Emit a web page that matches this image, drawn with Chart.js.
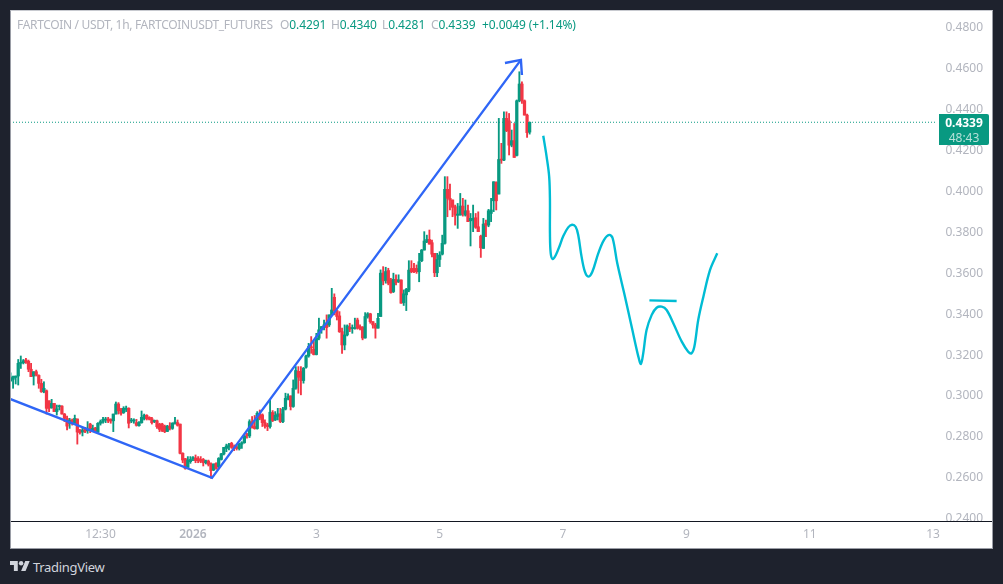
<!DOCTYPE html>
<html><head><meta charset="utf-8">
<script src="https://cdn.jsdelivr.net/npm/chart.js@4"></script>
<style>
html,body{margin:0;padding:0;width:1003px;height:584px;overflow:hidden;background:#1e222d;font-family:"Noto Sans",sans-serif}
#panel{position:absolute;left:10px;top:10px;width:983px;height:539px;background:#fff}
#edge{position:absolute;left:10px;top:10px;width:983px;height:539px;box-sizing:border-box;border:1px solid #9a9da6;border-top-color:#c8cad0;pointer-events:none}
canvas{position:absolute;left:10px;top:10px}
.h{position:absolute;top:17px;font-size:12px;line-height:16px;white-space:nowrap;color:#b2b5be;letter-spacing:-.1px}
.h b{font-weight:400;color:#089981}
#title{letter-spacing:-.33px}
#badge{position:absolute;left:939px;top:114px;width:50px;height:31px;background:#089981;border-radius:0 2px 2px 0;color:#fff;font-size:12px;line-height:15px;text-align:center}
#badge div:first-child{font-weight:700;padding-top:1px}
#badge div:last-child{color:#b5e0d8}
#logo{position:absolute;left:10px;top:560px}
#brand{position:absolute;left:33px;top:558px;color:#d1d4dc;font-size:13px;line-height:18px;letter-spacing:-.3px}
</style></head><body>
<div id="panel"></div>
<canvas id="c" width="983" height="539" style="width:983px;height:539px"></canvas>
<div id="edge"></div>
<div class="h" style="left:17px" id="title">FARTCOIN / USDT, 1h, FARTCOINUSDT_FUTURES</div>
<div class="h" style="left:280px">O<b>0.4291</b></div>
<div class="h" style="left:331px">H<b>0.4340</b></div>
<div class="h" style="left:382px">L<b>0.4281</b></div>
<div class="h" style="left:431px">C<b>0.4339</b></div>
<div class="h" style="left:482px"><b>+0.0049 (+1.14%)</b></div>
<div id="badge"><div>0.4339</div><div>48:43</div></div>
<svg id="logo" width="20" height="12" viewBox="0 4 36 18"><path fill="#d1d4dc" d="M14 22H7V11H0V4h14v18zM28 22h-8l7.5-18h8L28 22z"/><circle fill="#d1d4dc" cx="20" cy="8" r="4"/></svg>
<div id="brand">TradingView</div>
<script>
const firstHour = -71;
const open = [.3075,.3082,.3091,.3098,.3160,.3163,.3176,.3170,.3131,.3098,.3119,.3101,.3062,.3021,.3026,.2977,.2943,.2964,.2924,.2948,.2951,.2912,.2891,.2867,.2883,.2867,.2888,.2834,.2824,.2844,.2831,.2863,.2831,.2844,.2824,.2867,.2876,.2883,.2888,.2886,.2879,.2912,.2961,.2932,.2919,.2935,.2940,.2878,.2878,.2870,.2855,.2870,.2889,.2906,.2896,.2889,.2875,.2879,.2863,.2863,.2853,.2827,.2853,.2842,.2867,.2870,.2863,.2720,.2694,.2651,.2679,.2694,.2697,.2695,.2690,.2690,.2674,.2682,.2668,.2638,.2671,.2655,.2690,.2717,.2744,.2752,.2769,.2752,.2752,.2743,.2765,.2772,.2810,.2805,.2875,.2851,.2841,.2911,.2908,.2870,.2859,.2851,.2919,.2883,.2900,.2913,.2875,.2936,.2989,.3001,.2949,.3038,.3121,.3120,.3076,.3141,.3196,.3239,.3229,.3203,.3283,.3327,.3337,.3356,.3348,.3397,.3483,.3418,.3392,.3315,.3250,.3299,.3337,.3330,.3330,.3372,.3340,.3337,.3284,.3389,.3402,.3364,.3348,.3332,.3389,.3601,.3565,.3614,.3568,.3511,.3571,.3560,.3568,.3457,.3495,.3518,.3624,.3624,.3624,.3608,.3662,.3714,.3755,.3766,.3750,.3698,.3603,.3668,.3694,.3747,.4011,.3967,.3959,.3926,.3884,.3885,.3929,.3885,.3906,.3857,.3861,.3872,.3828,.3782,.3722,.3845,.3836,.3893,.3955,.4045,.3988,.4157,.4154,.4358,.4346,.4227,.4249,.4177,.4444,.4526,.4444,.4374,.4291];
const high = [.3114,.3098,.3098,.3179,.3196,.3179,.3184,.3176,.3160,.3119,.3127,.3104,.3082,.3070,.3030,.2977,.2984,.2964,.2956,.2956,.2953,.2915,.2902,.2891,.2888,.2907,.2888,.2837,.2842,.2847,.2875,.2867,.2858,.2847,.2870,.2883,.2896,.2896,.2896,.2889,.2912,.2971,.2968,.2940,.2948,.2951,.2943,.2891,.2889,.2886,.2875,.2927,.2912,.2909,.2899,.2896,.2883,.2883,.2867,.2867,.2858,.2857,.2870,.2870,.2896,.2883,.2863,.2723,.2695,.2704,.2704,.2704,.2712,.2704,.2704,.2695,.2687,.2687,.2674,.2668,.2674,.2699,.2720,.2749,.2765,.2769,.2774,.2761,.2761,.2769,.2777,.2810,.2818,.2884,.2900,.2905,.2924,.2932,.2913,.2884,.2867,.2981,.2929,.2924,.2940,.2940,.2945,.3014,.3011,.3001,.3079,.3144,.3144,.3144,.3140,.3201,.3258,.3291,.3267,.3307,.3381,.3340,.3372,.3397,.3397,.3527,.3500,.3421,.3413,.3332,.3348,.3348,.3356,.3348,.3381,.3381,.3348,.3340,.3408,.3408,.3405,.3364,.3356,.3405,.3617,.3633,.3630,.3625,.3576,.3601,.3593,.3593,.3568,.3519,.3527,.3662,.3662,.3649,.3641,.3698,.3717,.3804,.3787,.3812,.3763,.3698,.3698,.3706,.3787,.4073,.4073,.4037,.3959,.3934,.3942,.3991,.3967,.3959,.3934,.3893,.3934,.3893,.3901,.3787,.3869,.3861,.3913,.3967,.4048,.4048,.4358,.4236,.4390,.4390,.4382,.4301,.4333,.4448,.4586,.4537,.4448,.4379,.4340];
const low = [.3070,.3038,.3059,.3054,.3135,.3157,.3160,.3119,.3095,.3054,.3098,.3038,.3018,.3016,.2912,.2924,.2940,.2924,.2907,.2932,.2912,.2875,.2834,.2842,.2858,.2867,.2765,.2814,.2805,.2821,.2818,.2821,.2826,.2822,.2821,.2858,.2867,.2870,.2870,.2867,.2826,.2912,.2912,.2907,.2915,.2924,.2844,.2870,.2867,.2853,.2853,.2867,.2883,.2883,.2883,.2863,.2870,.2842,.2826,.2826,.2821,.2826,.2834,.2837,.2863,.2853,.2717,.2674,.2642,.2646,.2671,.2684,.2674,.2674,.2674,.2658,.2668,.2658,.2598,.2635,.2642,.2646,.2687,.2712,.2728,.2736,.2744,.2733,.2736,.2736,.2744,.2769,.2794,.2797,.2843,.2838,.2838,.2884,.2851,.2843,.2831,.2843,.2875,.2880,.2883,.2870,.2870,.2932,.2981,.2932,.2945,.3033,.3014,.3006,.3063,.3136,.3190,.3209,.3201,.3201,.3275,.3307,.3324,.3283,.3340,.3397,.3397,.3372,.3311,.3209,.3226,.3294,.3315,.3307,.3327,.3327,.3324,.3275,.3283,.3381,.3356,.3332,.3283,.3332,.3389,.3544,.3552,.3544,.3503,.3506,.3544,.3555,.3454,.3443,.3418,.3510,.3603,.3603,.3600,.3559,.3657,.3714,.3750,.3743,.3681,.3584,.3584,.3633,.3690,.3743,.3877,.3910,.3877,.3836,.3820,.3885,.3880,.3880,.3853,.3734,.3804,.3820,.3804,.3678,.3722,.3779,.3828,.3853,.3902,.3910,.3988,.4138,.4151,.4293,.4179,.4219,.4167,.4174,.4439,.4431,.4374,.4265,.4281];
const close = [.3090,.3095,.3098,.3160,.3163,.3173,.3166,.3131,.3095,.3119,.3103,.3062,.3021,.3038,.2940,.2940,.2964,.2924,.2937,.2951,.2912,.2891,.2853,.2883,.2867,.2891,.2824,.2821,.2834,.2827,.2837,.2834,.2842,.2823,.2867,.2875,.2886,.2888,.2878,.2878,.2912,.2961,.2928,.2915,.2940,.2941,.2867,.2883,.2883,.2857,.2871,.2896,.2906,.2889,.2886,.2870,.2881,.2850,.2837,.2831,.2826,.2853,.2842,.2867,.2873,.2857,.2720,.2687,.2646,.2687,.2690,.2697,.2684,.2684,.2681,.2674,.2684,.2666,.2635,.2668,.2646,.2695,.2717,.2749,.2756,.2762,.2749,.2744,.2744,.2765,.2772,.2805,.2807,.2875,.2848,.2841,.2916,.2892,.2870,.2854,.2851,.2921,.2880,.2906,.2913,.2875,.2936,.2989,.2998,.2949,.3038,.3125,.3092,.3076,.3136,.3196,.3242,.3236,.3203,.3283,.3324,.3340,.3348,.3335,.3397,.3421,.3418,.3389,.3315,.3250,.3299,.3343,.3327,.3333,.3335,.3332,.3330,.3284,.3389,.3402,.3364,.3348,.3332,.3380,.3601,.3563,.3609,.3552,.3506,.3571,.3555,.3568,.3454,.3500,.3522,.3616,.3608,.3608,.3608,.3657,.3714,.3758,.3766,.3743,.3694,.3603,.3668,.3690,.3747,.4011,.3967,.3959,.3923,.3885,.3890,.3929,.3890,.3906,.3853,.3869,.3869,.3825,.3804,.3725,.3841,.3835,.3906,.3910,.4048,.3955,.4157,.4154,.4358,.4298,.4227,.4249,.4167,.4444,.4526,.4444,.4374,.4288,.4339];
const lastPrice = 0.4339;
const trendHours = [-71.2, 7.4, 127.6];
const trendPrices = [.2986, .2600, .4644];
const arrowHours = [121.4, 127.6, 128];
const arrowPrices = [.4629, .4644, .4570];
const forecastHours = [136.3,137.6,138.6,138.9,138.9,139.2,140,141.2,142.8,144.1,146,147.5,148.9,149.9,151.2,152.5,153.8,155.4,157.7,159.9,162,163.3,165.1,168.1,170.7,173.3,174.3,175.2,176.5,178.5,180.4,182.4,184.3,186.9,190.2,192.7,194,195.1,196.6,198.6,201.2,204];
const forecastPrices = [.4273,.4171,.4073,.3959,.3796,.3698,.3670,.3690,.3739,.3783,.3825,.3838,.3828,.3788,.3682,.3608,.3584,.3608,.3698,.3763,.3788,.3772,.3649,.3486,.3339,.3193,.3157,.3209,.3323,.3397,.3432,.3437,.3421,.3356,.3266,.3217,.3209,.3242,.3372,.3486,.3617,.3698];
const levelHours = [177.6, 188.2];
const levelPrices = [.3468, .3465];
const xTickHours = [-36, 0, 48, 96, 144, 192, 240, 288];
const xTickLabels = ['12:30', '2026', '3', '5', '7', '9', '11', '13'];
const GREEN = '#089981', RED = '#f23645', BLUE = '#2f66f6', CYAN = '#00bcd4';
const FONT = '"Noto Sans", sans-serif';
const pts = (xs, ys) => xs.map((x, i) => ({x, y: ys[i]}));
const colors = open.map((o, i) => close[i] >= o ? GREEN : RED);
const wicks = open.map((o, i) => ({x: firstHour + i, y: [low[i], high[i]]}));
const bodies = open.map((o, i) => ({x: firstHour + i, y: [Math.min(o, close[i]), Math.max(o, close[i])]}));
const lineDs = (data, color, extra) => Object.assign({type: 'line', data, borderColor: color, borderWidth: 2.4, pointRadius: 0, fill: false, tension: 0}, extra || {});
const noPad = s => { s.paddingTop = s.paddingBottom = s.paddingLeft = s.paddingRight = 0; };
const erase = {id: 'erase', beforeDatasetsDraw(ch) {
  ch.ctx.clearRect(0, ch.chartArea.bottom, ch.width, ch.height - ch.chartArea.bottom);
}};
new Chart(document.getElementById('c'), {
  type: 'bar',
  plugins: [erase],
  data: {datasets: [
    {data: wicks, backgroundColor: colors, barThickness: 1.2, grouped: false, borderWidth: 0, order: 5},
    {data: bodies, backgroundColor: colors, barThickness: 2.6, grouped: false, borderWidth: 0, minBarLength: 1, order: 4},
    lineDs(pts([-71.2, 289], [lastPrice, lastPrice]), GREEN, {borderWidth: 1.2, borderDash: [1, 2], order: 6}),
    lineDs(pts(trendHours, trendPrices), BLUE, {order: 1}),
    lineDs(pts(arrowHours, arrowPrices), BLUE, {order: 1}),
    lineDs(pts(forecastHours, forecastPrices), CYAN, {tension: 0.35, order: 1}),
    lineDs(pts(levelHours, levelPrices), CYAN, {order: 1})
  ]},
  options: {
    responsive: false, animation: false, devicePixelRatio: 1,
    layout: {padding: 0},
    plugins: {legend: {display: false}, tooltip: {enabled: false}},
    scales: {
      x: {
        type: 'linear', offset: false, min: -71.2, max: 311.3,
        grid: {display: false, drawTicks: false, offset: false},
        border: {display: true, color: '#131722', width: 1, z: 1},
        afterBuildTicks(s) { s.ticks = xTickHours.map(v => ({value: v})); },
        afterFit(s) { s.height = 28; noPad(s); },
        ticks: {z: 1, color: '#b2b5be', padding: 6, maxRotation: 0, autoSkip: false,
          font: c => ({size: 12, family: FONT, weight: c.tick && c.tick.value === 0 ? '600' : '400'}),
          callback(v) { return xTickLabels[xTickHours.indexOf(v)]; }}
      },
      y: {
        position: 'right', min: 0.2389, max: 0.4888,
        grid: {display: false, drawTicks: false}, border: {display: false},
        afterFit(s) { s.width = 0; noPad(s); },
        ticks: {mirror: true, padding: -10, stepSize: 0.02, includeBounds: false, color: '#b2b5be', font: {size: 12, family: FONT},
          callback(v) { return v.toFixed(4); }}
      }
    }
  }
});
</script>
</body></html>
